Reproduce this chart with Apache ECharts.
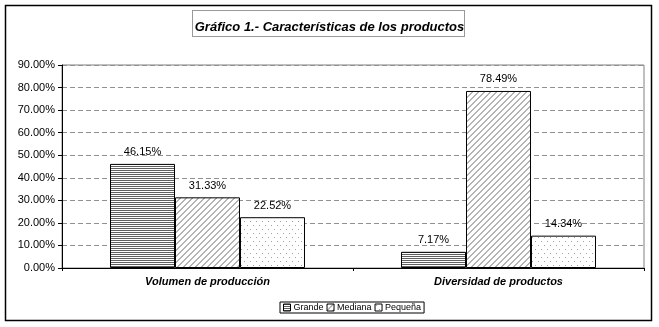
<!DOCTYPE html>
<html><head><meta charset="utf-8">
<script src="https://cdn.jsdelivr.net/npm/echarts@6/dist/echarts.min.js"></script>
<style>html,body{margin:0;padding:0;background:#fff}#c{width:659px;height:327px}</style>
</head><body><div id="c"></div>
<script>
const categories = ['Volumen de producción', 'Diversidad de productos'];
const seriesNames = ['Grande', 'Mediana', 'Pequeña'];
const grande = [46.15, 7.17];
const mediana = [31.33, 78.49];
const pequena = [22.52, 14.34];
const yTicks = [0, 10, 20, 30, 40, 50, 60, 70, 80, 90];
const titleText = 'Gráfico 1.- Características de los productos';

function makePattern(w, h, draw) {
  const c = document.createElement('canvas');
  c.width = w; c.height = h;
  const ctx = c.getContext('2d');
  ctx.fillStyle = '#fff'; ctx.fillRect(0, 0, w, h);
  draw(ctx);
  return { image: c, repeat: 'repeat' };
}
const patGrande = makePattern(2, 2, ctx => { ctx.fillStyle = '#606060'; ctx.fillRect(0, 0, 2, 1); });
const patMediana = makePattern(6, 6, ctx => {
  ctx.fillStyle = '#b4b4b4';
  for (let y = 0; y < 6; y++) {
    for (let k = -1; k <= 1; k++) {
      const x0 = ((5 - y) + k * 6);
      ctx.fillRect(x0, y, 2, 1);
    }
  }
});
const patPeq = makePattern(6, 8, ctx => {
  ctx.fillStyle = '#a0a0a0';
  ctx.fillRect(1, 1, 1, 1);
  ctx.fillRect(4, 5, 1, 1);
});
const patterns = [patGrande, patMediana, patPeq];
const dataSets = [grande, mediana, pequena];

const chart = echarts.init(document.getElementById('c'), null, { renderer: 'canvas' });
const font = 'Liberation Sans, Arial, sans-serif';
chart.setOption({
  animation: false,
  backgroundColor: '#fff',
  textStyle: { fontFamily: font },
  title: {
    text: titleText, left: 'center', top: 16,
    textStyle: { fontSize: 13, fontWeight: 'bold', fontStyle: 'italic', color: '#000', fontFamily: font }
  },
  graphic: [
    { type: 'rect', shape: { x: 5.5, y: 5.5, width: 646, height: 315 }, style: { fill: null, stroke: '#000', lineWidth: 1.5 }, silent: true, z: 0 },
    { type: 'rect', shape: { x: 192.5, y: 10.5, width: 272, height: 26 }, style: { fill: null, stroke: '#333', lineWidth: 1, lineDash: [1, 1] }, silent: true, z: 0 }
  ],
  legend: {
    data: seriesNames, top: 302, left: 280,
    icon: 'rect',
    itemWidth: 7, itemHeight: 7, itemGap: 3,
    borderColor: '#000', borderWidth: 1, padding: [1, 3],
    textStyle: { fontSize: 9, color: '#000', fontFamily: font, padding: [0, 0, 0, -2] },
    itemStyle: { borderColor: '#000', borderWidth: 1 }
  },
  grid: { left: 62, right: 15, top: 65, bottom: 59, show: true, borderColor: '#808080', borderWidth: 1, containLabel: false },
  xAxis: {
    type: 'category', data: categories,
    axisLine: { lineStyle: { color: '#000', width: 1 } },
    axisTick: { show: true, length: 3, lineStyle: { color: '#000' } },
    axisLabel: { margin: 8, color: '#000', fontSize: 11, fontWeight: 'bold', fontStyle: 'italic', fontFamily: font }
  },
  yAxis: {
    type: 'value', min: 0, max: 90, interval: 10,
    axisLine: { show: true, lineStyle: { color: '#000', width: 1 } },
    axisTick: { show: true, length: 4, lineStyle: { color: '#000' } },
    axisLabel: { margin: 7, color: '#000', fontSize: 11, fontFamily: font, formatter: v => v.toFixed(2) + '%' },
    splitLine: { show: true, lineStyle: { color: '#909090', type: [5, 3], width: 1 } }
  },
  series: seriesNames.map((n, i) => ({
    name: n, type: 'bar', data: dataSets[i],
    barGap: '0%', barCategoryGap: '33%',
    itemStyle: { color: patterns[i], borderColor: '#000', borderWidth: 1 },
    label: { show: true, position: 'top', distance: 6, color: '#000', fontSize: 11, fontFamily: font, formatter: p => p.value.toFixed(2) + '%' }
  }))
});
</script></body></html>
